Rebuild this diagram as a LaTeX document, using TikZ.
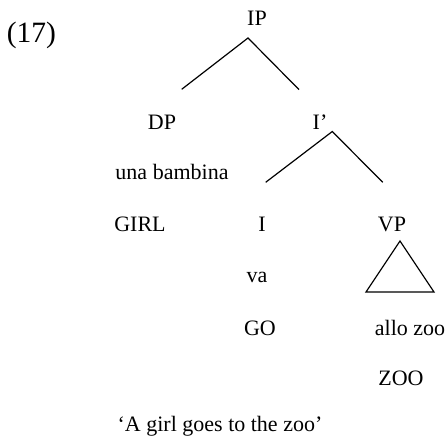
\documentclass[tikz,border=0pt]{standalone}
\usepackage{fontspec}
\setmainfont{Liberation Serif}
\begin{document}
\begin{tikzpicture}[x=1pt,y=-1pt,
  lbl/.style={anchor=base,inner sep=0pt,font=\fontsize{22}{26}\selectfont},
  branch/.style={line width=1.2pt,line join=miter}]
\useasboundingbox (0,0) rectangle (445,441);
\node[anchor=base,inner sep=0pt,font=\fontsize{29.5}{34}\selectfont] (num) at (31.5,42.5) {(17)};
\node[lbl] (IP) at (257,26) {IP};
\node[lbl] (DP) at (162,129.3) {DP};
\node[lbl] (Ib) at (320,129.3) {I’};
\node[lbl] (una) at (172,180) {una bambina};
\node[lbl] (girl) at (140,231.7) {GIRL};
\node[lbl] (I) at (262,231.7) {I};
\node[lbl] (VP) at (392,231.7) {VP};
\node[lbl] (va) at (257,282.7) {va};
\node[lbl] (GO) at (260,335) {GO};
\node[lbl] (allo) at (410,335) {allo zoo};
\node[lbl] (ZOO) at (401,385) {ZOO};
\node[lbl] (gloss) at (220,431.7) {‘A girl goes to the zoo’};
\draw[branch] ([shift={(19.7,-40)}]DP.base) -- ([shift={(-9,12)}]IP.base) -- ([shift={(-21,-39.7)}]Ib.base);
\draw[branch] ([shift={(3.7,-49.4)}]I.base) -- ([shift={(12.3,2.2)}]Ib.base) -- ([shift={(-9.3,-49.4)}]VP.base);
\draw[branch] ([shift={(8,9.3)}]VP.base) -- ([shift={(42,60.3)}]VP.base) -- ([shift={(-26,60.3)}]VP.base) -- cycle;
\end{tikzpicture}
\end{document}
